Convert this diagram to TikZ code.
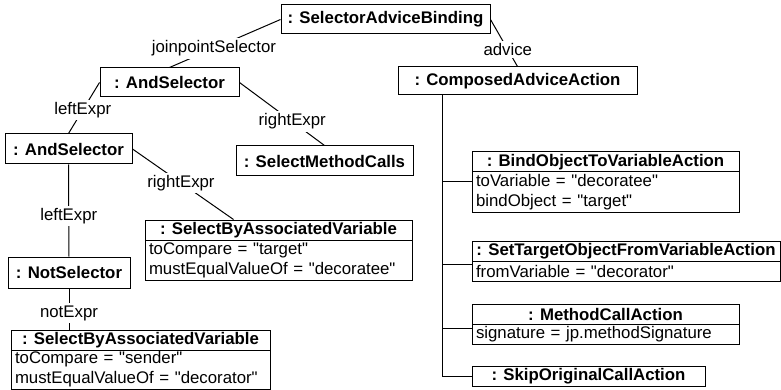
\documentclass[tikz,border=0pt]{standalone}
\usepackage{fontspec}
\setmainfont{Liberation Sans}[Ligatures=TeXOff]
\usetikzlibrary{positioning}
\newcommand{\umlfont}{\fontsize{16.8}{20}\selectfont}

\begin{document}
\begin{tikzpicture}[x=1pt,y=-1pt,on grid,line width=1pt,
  obj/.style={draw,inner sep=0pt,font=\umlfont\bfseries},
  attrs/.style={draw,inner xsep=4pt,inner ysep=0pt,align=left,font=\umlfont},
  role/.style={fill=white,inner sep=2.5pt,font=\umlfont}]
 \useasboundingbox (0,0) rectangle (781,390);
 % plain objects
 \node[obj,minimum width=209pt,minimum height=29pt] (binding)  at (385.5,19.5) {: SelectorAdviceBinding};
 \node[obj,minimum width=139pt,minimum height=29pt] (and1)     at (169.5,82.5) {: AndSelector};
 \node[obj,minimum width=127pt,minimum height=30pt] (and2)     at (68.5,149)   {: AndSelector};
 \node[obj,minimum width=177pt,minimum height=30pt] (calls)    at (324.5,161)  {: SelectMethodCalls};
 \node[obj,minimum width=122pt,minimum height=31pt] (not)      at (69,272.5)   {: NotSelector};
 \node[obj,minimum width=239pt,minimum height=28pt] (composed) at (517.5,81)   {: ComposedAdviceAction};
 % objects with attributes
 \node[obj,minimum width=267pt,minimum height=20pt] (var1) at (278.5,230) {: SelectByAssociatedVariable};
 \node[attrs,text width=259pt,minimum height=40pt] (var1attr) [below=30pt of var1] {toCompare = "target"\\mustEqualValueOf = "decoratee"};
 \node[obj,minimum width=259pt,minimum height=20pt] (var2) at (140.5,340) {: SelectByAssociatedVariable};
 \node[attrs,text width=251pt,minimum height=39pt] (var2attr) [below=29.5pt of var2] {toCompare = "sender"\\mustEqualValueOf = "decorator"};
 \node[obj,minimum width=267pt,minimum height=20pt] (bind) at (605.5,162) {: BindObjectToVariableAction};
 \node[attrs,text width=259pt,minimum height=40pt] (bindattr) [below=30pt of bind] {toVariable = "decoratee"\\bindObject = "target"};
 \node[obj,minimum width=308pt,minimum height=20pt] (settarget) at (626,251) {: SetTargetObjectFromVariableAction};
 \node[attrs,text width=300pt,minimum height=20pt] (settargetattr) [below=20pt of settarget] {fromVariable = "decorator"};
 \node[obj,minimum width=267pt,minimum height=20pt] (call) at (605.5,314) {: MethodCallAction};
 \node[attrs,text width=259pt,minimum height=20pt] (callattr) [below=20pt of call] {signature = jp.methodSignature};
 \node[obj,minimum width=233pt,minimum height=20pt] (skip) at (588.5,376) {: SkipOriginalCallAction};
 % links
 \draw (binding.west) -- node[role,pos=.6]  (jp)   {joinpointSelector} (and1.north);
 \draw (binding.east) -- node[role,pos=.64] (adv)  {advice} (composed.north);
 \draw (and1.west)    -- node[role,pos=.54] (lft1) {leftExpr} (and2.north);
 \draw (and1.east)    -- node[role,pos=.62] (rgt1) {rightExpr} (calls.north);
 \draw (and2.east)    -- node[role,pos=.48] (rgt2) {rightExpr} ([xshift=89pt]var1.north west);
 \draw (and2.south)   -- node[role,pos=.56] (lft2) {leftExpr} (not.south |- not.north);
 \draw (not.south)    -- node[role,pos=.6]  (nex)  {notExpr} (not.south |- var2.north);
 \coordinate (spine) at ([xshift=45pt]composed.south west);
 \draw (spine) |- ([yshift=-10pt]bindattr.north west);
 \draw (spine) |- ([yshift=-4pt]settargetattr.north west);
 \draw (spine) |- ([yshift=-5pt]callattr.north west);
 \draw (spine) |- (skip.west);
\end{tikzpicture}
\end{document}
